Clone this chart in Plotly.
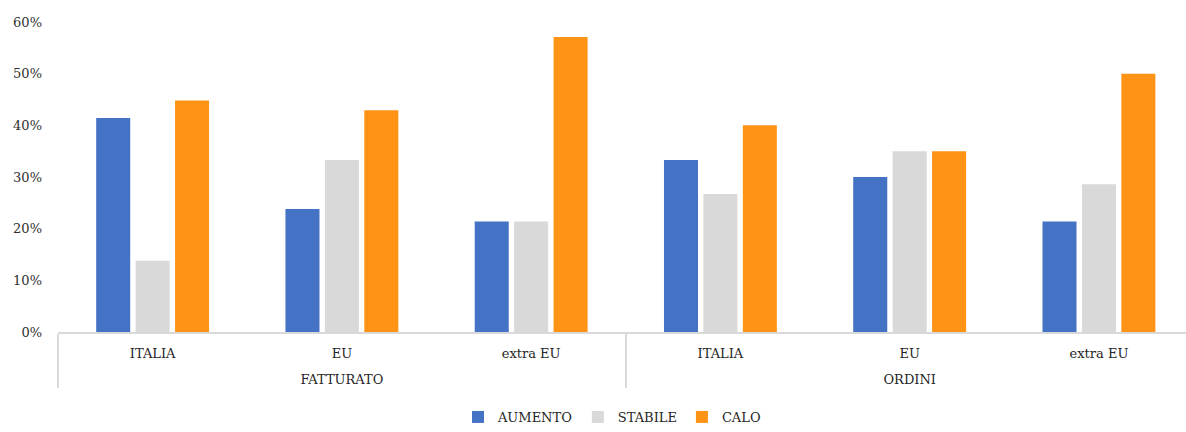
import plotly.graph_objects as go

groups = ["FATTURATO"] * 3 + ["ORDINI"] * 3
markets = ["ITALIA", "EU", "extra EU", "ITALIA", "EU", "extra EU"]

aumento = [0.414, 0.238, 0.214, 0.333, 0.300, 0.214]
stabile = [0.138, 0.333, 0.214, 0.267, 0.350, 0.286]
calo = [0.448, 0.429, 0.571, 0.400, 0.350, 0.500]

series = [("AUMENTO", aumento, "#4472C4"), ("STABILE", stabile, "#D9D9D9"), ("CALO", calo, "#FF9315")]

# group labels get an empty first line so they sit lower, as in the reference
group_labels = ["<br>" + g for g in groups]

fig = go.Figure()
for name, vals, col in series:
    fig.add_trace(go.Bar(x=[group_labels, markets], y=vals, name=name, marker_color=col,
                         marker_line_width=0))

font = "DejaVu Serif"
fig.update_layout(
    width=1186, height=432,
    margin=dict(l=58, r=0, t=22, b=100),
    paper_bgcolor="white", plot_bgcolor="white",
    barmode="group", bargap=0.375, bargroupgap=0.137,
    font=dict(family=font, size=13, color="#262626"),
    legend=dict(orientation="h", x=0.516, xanchor="center", xref="container",
                y=0.0, yanchor="bottom", yref="container", itemwidth=30,
                borderwidth=0, tracegroupgap=0,
                font=dict(family=font, size=13, color="#262626"), traceorder="normal"),
    showlegend=True,
)
fig.update_yaxes(range=[0, 0.6], dtick=0.1, tickformat=".0%", showgrid=False, zeroline=False,
                 showline=False, ticks="", ticklabelstandoff=15, automargin=False,
                 tickfont=dict(family=font, size=13, color="#303030"))
fig.update_xaxes(range=[-0.5, 5.46], showline=True, linecolor="#D9D9D9", linewidth=2,
                 showdividers=True, dividercolor="#D9D9D9", dividerwidth=2, ticks="",
                 tickson="boundaries", ticklabelstandoff=8, automargin=False,
                 tickfont=dict(family=font, size=13, color="#262626"))
fig.write_html("out.html")
